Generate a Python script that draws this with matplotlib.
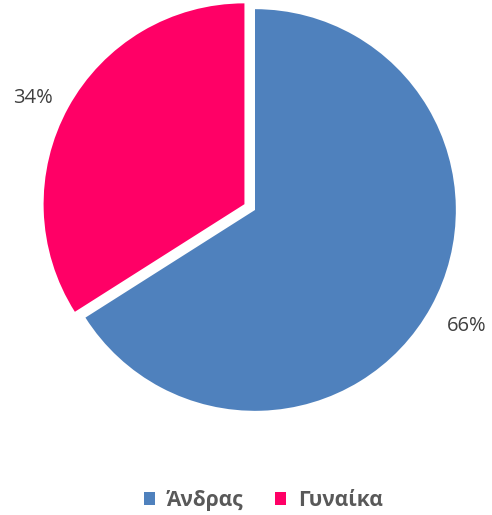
import matplotlib
matplotlib.use("Agg")
import matplotlib.pyplot as plt
from matplotlib.patches import Patch

labels = ['Άνδρας', 'Γυναίκα']
values = [66, 34]
colors = ['#4F81BD', '#FF0066']
explode = [0, 0.06]

plt.rcParams['font.family'] = ['Open Sans', 'DejaVu Sans']

fig = plt.figure(figsize=(4.92, 5.15), dpi=100)
ax = fig.add_axes([14/492, 64/515, 482/492, 482/515])

wedges, texts, autotexts = ax.pie(values, colors=colors, explode=explode,
                                  startangle=90, counterclock=False,
                                  autopct='%1.0f%%', pctdistance=1.2,
                                  radius=1.0,
                                  wedgeprops=dict(linewidth=0))
for t in autotexts:
    t.set_color('#404040')
    t.set_fontsize(14.5)
# nudge the small slice label down a bit, like the reference
autotexts[1].set_position((autotexts[1].get_position()[0],
                           autotexts[1].get_position()[1] - 0.05))

ax.set_xlim(-1.2, 1.2)
ax.set_ylim(-1.2, 1.2)
ax.set_aspect('equal')
ax.axis('off')

handles = [Patch(facecolor=c, edgecolor='none') for c in colors]
leg = fig.legend(handles, labels, loc='center', bbox_to_anchor=(0.535, 0.028),
                 ncol=2, frameon=False, handlelength=0.55, handleheight=0.55,
                 handletextpad=0.55, columnspacing=1.5,
                 prop=dict(size=15, weight='bold'))
for t in leg.get_texts():
    t.set_color('#595959')

fig.savefig('out.png', dpi=100)
